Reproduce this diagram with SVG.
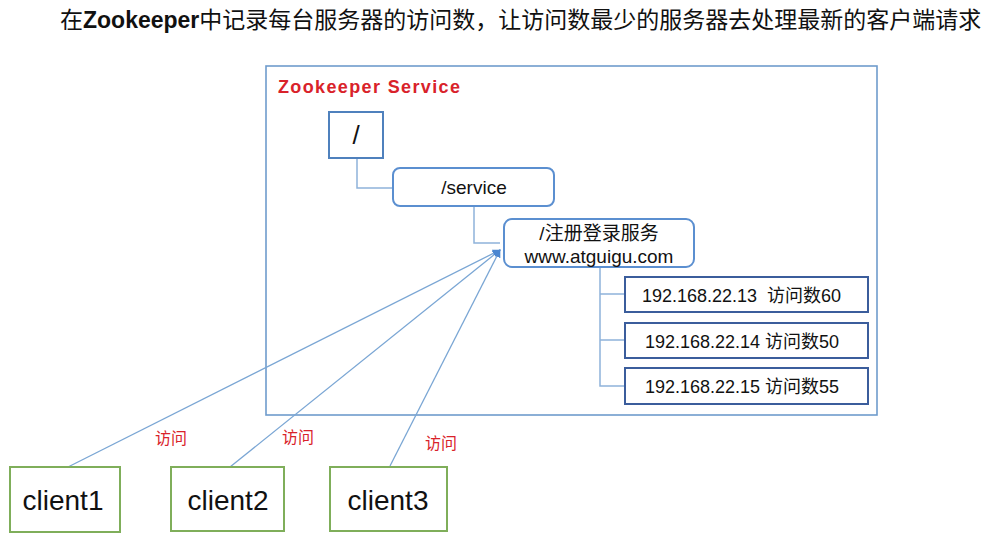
<svg xmlns="http://www.w3.org/2000/svg" width="996" height="538" viewBox="0 0 996 538">
<defs>
<style>
.t{font-family:"Liberation Sans","Noto Sans CJK SC",Arial,sans-serif;fill:#111}
.cjk{font-family:"Noto Sans CJK SC","Liberation Sans",sans-serif}
.red{fill:#d9222a}
.conn{fill:none;stroke:#7aa6d4;stroke-width:1.3}
.tree{fill:none;stroke:#8fb3da;stroke-width:1.5}
.client{fill:#fff;stroke:#7fae5a;stroke-width:2}
.ip{fill:#fff;stroke:#3b5d9c;stroke-width:2}
.rnd{fill:#fff;stroke:#5b8fd0;stroke-width:2}
</style>
<marker id="ah" viewBox="0 0 10 10" refX="9" refY="5" markerWidth="8" markerHeight="8" markerUnits="userSpaceOnUse" orient="auto">
<path d="M0,0 L10,5 L0,10 z" fill="#4a86d0"/>
</marker>
</defs>
<rect width="996" height="538" fill="#fff"/>
<text id="title" class="t" x="60" y="28" font-size="23" fill="#222"><tspan class="cjk">在</tspan><tspan font-weight="bold" font-family="Liberation Sans, sans-serif">Zookeeper</tspan><tspan class="cjk">中记录每台服务器的访问数，让访问数最少的服务器去处理最新的客户端请求</tspan></text>
<g id="zk-service">
<rect x="266" y="66" width="611" height="349" fill="none" stroke="#6f9ccc" stroke-width="1.6"/>
<text class="t red" x="278" y="93" font-size="18" font-weight="bold" textLength="182" lengthAdjust="spacing">Zookeeper Service</text>
</g>
<g id="connectors">
<path class="tree" d="M357,158 V188 H393"/>
<path class="tree" d="M474,206 V243 H500"/>
<path class="tree" d="M600,267 V386 H625 M600,294 H625 M600,340 H625"/>
<line class="conn" x1="68" y1="467" x2="500" y2="250" marker-end="url(#ah)"/>
<line class="conn" x1="230" y1="467" x2="500" y2="250" marker-end="url(#ah)"/>
<line class="conn" x1="390" y1="466" x2="500" y2="250" marker-end="url(#ah)"/>
<text class="cjk red" x="155" y="444" font-size="16">访问</text>
<text class="cjk red" x="282" y="443" font-size="16">访问</text>
<text class="cjk red" x="425" y="449" font-size="16">访问</text>
</g>
<g id="root">
<rect x="329" y="112" width="54" height="46" fill="#fff" stroke="#4f81bd" stroke-width="2"/>
<text class="t" x="356" y="144" font-size="26" text-anchor="middle">/</text>
</g>
<g id="service">
<rect class="rnd" x="393" y="168" width="161" height="38" rx="7"/>
<text class="t" x="474" y="194" font-size="19" text-anchor="middle">/service</text>
</g>
<g id="register">
<rect class="rnd" x="504" y="219" width="190" height="48" rx="8"/>
<text class="t" x="599" y="240" font-size="19" text-anchor="middle">/注册登录服务</text>
<text class="t" x="599" y="263" font-size="19" text-anchor="middle">www.atguigu.com</text>
</g>
<g id="ip13">
<rect class="ip" x="625" y="277" width="243" height="35"/>
<text class="t" x="642" y="302" font-size="18" xml:space="preserve">192.168.22.13  访问数60</text>
</g>
<g id="ip14">
<rect class="ip" x="625" y="323" width="243" height="35"/>
<text class="t" x="645" y="348" font-size="18">192.168.22.14 访问数50</text>
</g>
<g id="ip15">
<rect class="ip" x="625" y="368" width="243" height="36"/>
<text class="t" x="645" y="393" font-size="18">192.168.22.15 访问数55</text>
</g>
<g id="client1">
<rect class="client" x="10" y="467" width="110" height="65"/>
<text class="t" x="63" y="510" font-size="28" text-anchor="middle">client1</text>
</g>
<g id="client2">
<rect class="client" x="171" y="467" width="113" height="64"/>
<text class="t" x="228" y="510" font-size="28" text-anchor="middle">client2</text>
</g>
<g id="client3">
<rect class="client" x="330" y="467" width="117" height="64"/>
<text class="t" x="388" y="510" font-size="28" text-anchor="middle">client3</text>
</g>
</svg>
